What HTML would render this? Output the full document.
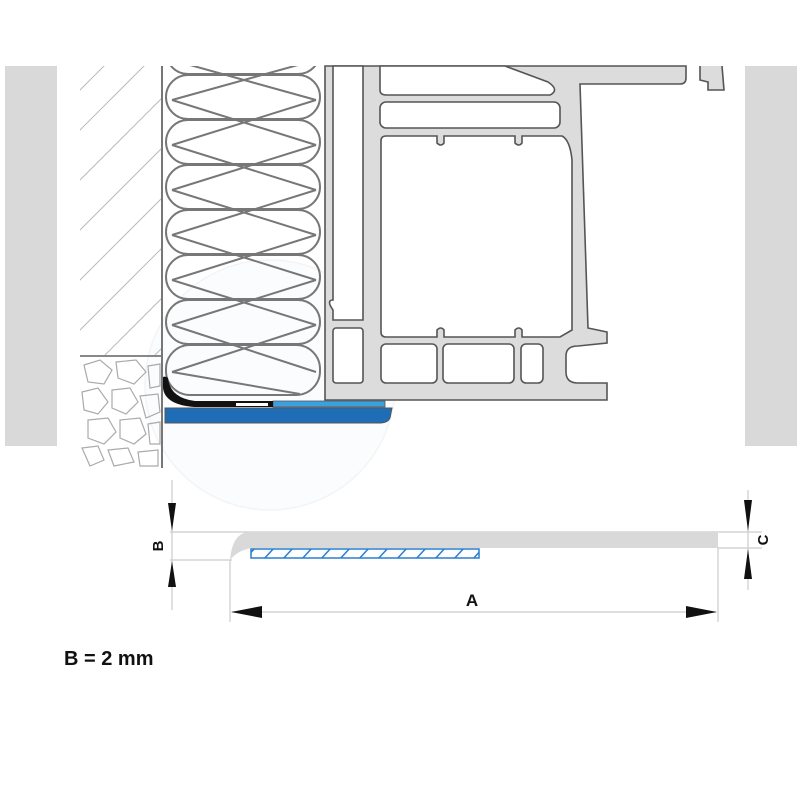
<!DOCTYPE html>
<html><head><meta charset="utf-8"><style>
html,body{margin:0;padding:0;background:#fff;width:800px;height:795px;overflow:hidden}
svg{display:block}
</style></head><body>
<svg width="800" height="795" viewBox="0 0 800 795" xmlns="http://www.w3.org/2000/svg" font-family="Liberation Sans, sans-serif">
<defs>
<clipPath id="wall"><rect x="80" y="66" width="82" height="289"/></clipPath>
<clipPath id="grav"><rect x="80" y="357" width="82" height="111"/></clipPath>
<clipPath id="ins"><rect x="163" y="66" width="165" height="340"/></clipPath>
<clipPath id="hat"><rect x="251" y="549" width="228" height="9"/></clipPath>
</defs>
<rect x="5" y="66" width="52" height="380" fill="#d9d9d9"/>
<rect x="745" y="66" width="52" height="380" fill="#d9d9d9"/>
<circle cx="270" cy="385" r="125" fill="#fafcfd" stroke="#f2f4f5" stroke-width="1.5"/>
<g clip-path="url(#wall)" stroke="#bbb" stroke-width="1">
<line x1="60" y1="150" x2="180" y2="30"/><line x1="60" y1="200" x2="200" y2="60"/>
<line x1="60" y1="250" x2="200" y2="110"/><line x1="60" y1="300" x2="200" y2="160"/>
<line x1="60" y1="350" x2="200" y2="210"/><line x1="60" y1="400" x2="200" y2="260"/>
<line x1="60" y1="450" x2="200" y2="310"/><line x1="60" y1="110" x2="180" y2="-10"/>
</g>
<line x1="80" y1="356" x2="162" y2="356" stroke="#888" stroke-width="2"/>
<g clip-path="url(#grav)" fill="none" stroke="#aaa" stroke-width="1.2">
<path d="M84,365 L100,360 L112,370 L104,384 L88,382 Z"/><path d="M116,362 L136,360 L146,372 L134,384 L118,378 Z"/>
<path d="M148,366 L160,364 L160,386 L150,388 Z"/><path d="M82,392 L98,388 L108,402 L98,414 L84,410 Z"/>
<path d="M112,390 L130,388 L138,402 L126,414 L112,408 Z"/><path d="M140,396 L158,394 L160,412 L146,418 Z"/>
<path d="M88,420 L108,418 L116,432 L104,444 L88,438 Z"/><path d="M120,420 L140,418 L146,434 L134,444 L120,438 Z"/>
<path d="M148,424 L160,422 L160,444 L150,444 Z"/><path d="M82,448 L98,446 L104,460 L90,466 Z"/>
<path d="M108,450 L128,448 L134,462 L114,466 Z"/><path d="M138,452 L158,450 L158,466 L140,466 Z"/>
</g>
<line x1="162" y1="66" x2="162" y2="468" stroke="#777" stroke-width="2"/>
<g clip-path="url(#ins)" fill="none" stroke="#777" stroke-width="2">
<rect x="166" y="30" width="154" height="44" rx="22"/>
<rect x="166" y="75" width="154" height="44" rx="22"/>
<rect x="166" y="120" width="154" height="44" rx="22"/>
<rect x="166" y="165" width="154" height="44" rx="22"/>
<rect x="166" y="210" width="154" height="44" rx="22"/>
<rect x="166" y="255" width="154" height="44" rx="22"/>
<rect x="166" y="300" width="154" height="44" rx="22"/>
<rect x="166" y="345" width="154" height="50" rx="24"/>
<path d="M172,60 L316,100 M172,100 L316,60 M172,100 L316,145 M172,145 L316,100 M172,145 L316,190 M172,190 L316,145 M172,190 L316,235 M172,235 L316,190 M172,235 L316,280 M172,280 L316,235 M172,280 L316,325 M172,325 L316,280 M172,325 L316,372 M172,372 L316,325 M172,372 L300,394"/>
</g>
<path d="M325,66 L325,400 L607,400 L607,383 L578,383 Q566,383 566,372 L566,356 Q566,346 578,346 L607,343 L607,332 L588,328 L580,84 L680,84 Q686,84 686,78 L686,66 Z" fill="#dcdcdc" stroke="#555" stroke-width="1.6"/>
<path d="M700,66 L700,80 L708,82 L708,90 L724,90 L722,66" fill="#dcdcdc" stroke="#555" stroke-width="1.6"/>
<g fill="#fff" stroke="#555" stroke-width="1.6">
<path d="M333,66 L363,66 L363,320 L333,320 L333,310 Q326,300 333,300 Z"/>
<rect x="333" y="328" width="30" height="55" rx="3"/>
<path d="M380,66 L380,90 Q380,95 386,95 L550,95 Q560,90 548,82 L505,66 Z"/>
<rect x="380" y="102" width="180" height="26" rx="6"/>
<path d="M386,136 L437,136 L437,143 Q441,147 444,143 L444,136 L515,136 L515,143 Q519,147 522,143 L522,136 L562,136 Q570,140 572,160 L572,330 L560,337 L522,337 L522,330 Q519,326 515,330 L515,337 L444,337 L444,330 Q441,326 437,330 L437,337 L386,337 Q381,337 381,332 L381,141 Q381,136 386,136 Z"/>
<rect x="381" y="344" width="56" height="39" rx="5"/>
<rect x="443" y="344" width="71" height="39" rx="5"/>
<rect x="521" y="344" width="22" height="39" rx="5"/>
</g>
<path d="M165,408 L392,408 L390,418 Q388,423 380,423 L165,423 Z" fill="#1f6db6" stroke="#555" stroke-width="1"/>
<rect x="273" y="401" width="112" height="6" fill="#3aa0e0" stroke="#555" stroke-width="0.8"/>
<path d="M163,377 Q166,376 168,378 Q170,398 195,401 L273,401 L273,407 L195,407 Q165,405 163,388 Z" fill="#111"/>
<rect x="236" y="403" width="32" height="3" fill="#fff"/>
<g stroke="#ccc" stroke-width="1.2" fill="none">
<line x1="170" y1="532" x2="762" y2="532"/>
<line x1="170" y1="560" x2="232" y2="560"/>
<line x1="718" y1="548" x2="762" y2="548"/>
<line x1="230" y1="560" x2="230" y2="622"/>
<line x1="718" y1="548" x2="718" y2="622"/>
<line x1="172" y1="480" x2="172" y2="610"/>
<line x1="748" y1="490" x2="748" y2="590"/>
<line x1="232" y1="612" x2="716" y2="612"/>
</g>
<path d="M230,560 Q232,534 248,532 L718,532 L718,548 L252,548 Q238,550 230,560 Z" fill="#d9d9d9"/>
<g clip-path="url(#hat)" stroke="#2a7fd0" stroke-width="1.5">
<path d="M244,560 L256,547 M263,560 L275,547 M282,560 L294,547 M301,560 L313,547 M320,560 L332,547 M339,560 L351,547 M358,560 L370,547 M377,560 L389,547 M396,560 L408,547 M415,560 L427,547 M434,560 L446,547 M453,560 L465,547 M472,560 L484,547"/>
</g>
<rect x="251" y="549" width="228" height="9" fill="none" stroke="#2a7fd0" stroke-width="1.5"/>
<g fill="#111">
<polygon points="168,503 176,503 172,531"/>
<polygon points="168,587 176,587 172,561"/>
<polygon points="744,500 752,500 748,531"/>
<polygon points="744,579 752,579 748,549"/>
<polygon points="231,612 262,606 262,618"/>
<polygon points="717,612 686,606 686,618"/>
</g>
<text x="472" y="606" font-size="17" font-weight="bold" text-anchor="middle" fill="#111">A</text>
<text transform="translate(163,546) rotate(-90)" font-size="15" font-weight="bold" text-anchor="middle" fill="#111">B</text>
<text transform="translate(768,540) rotate(-90)" font-size="15" font-weight="bold" text-anchor="middle" fill="#111">C</text>
<text x="64" y="665" font-size="20" font-weight="bold" fill="#111">B = 2 mm</text>
</svg>
</body></html>
